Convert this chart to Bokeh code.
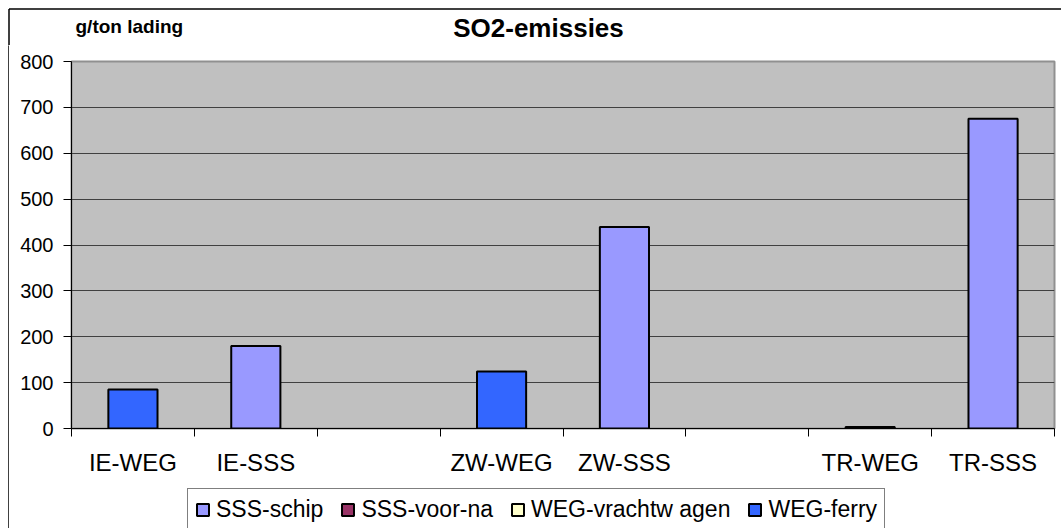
from bokeh.plotting import figure
from bokeh.layouts import column, row
from bokeh.models import (Range1d, LinearAxis, FixedTicker, ColumnDataSource, Legend,
                          LegendItem, Label)
from bokeh.embed import file_html
from bokeh.resources import INLINE

# ---- data ----
categories = ["IE-WEG", "IE-SSS", "", "ZW-WEG", "ZW-SSS", "", "TR-WEG", "TR-SSS"]
series_names = ["SSS-schip", "SSS-voor-na", "WEG-vrachtw agen", "WEG-ferry"]
sss_schip = [0, 180, 0, 0, 439, 0, 0, 675]
sss_voor_na = [0, 0, 0, 0, 0, 0, 0, 0]
weg_vrachtwagen = [0, 0, 0, 0, 0, 0, 0, 0]
weg_ferry = [85, 0, 0, 124, 0, 0, 3, 0]
series_values = [sss_schip, sss_voor_na, weg_vrachtwagen, weg_ferry]
colors = ["#9999FF", "#993366", "#FFFFCC", "#3366FF"]
y_ticks = [0, 100, 200, 300, 400, 500, 600, 700, 800]
chart_title = "SO2-emissies"
unit_label = "g/ton lading"

FONT = "Liberation Sans"


def blank_fig(w, h):
    f = figure(width=w, height=h, x_range=Range1d(0, w), y_range=Range1d(h, 0),
               output_backend="svg", toolbar_location=None,
               x_axis_location=None, y_axis_location=None, min_border=0)
    f.title.visible = False
    f.outline_line_color = None
    f.background_fill_color = "white"
    f.border_fill_color = "white"
    f.grid.visible = False
    return f


# ---- header strip (titles + outer frame line) ----
top = blank_fig(1061, 45)
top.segment(x0=[8.5, 8.5], y0=[8.5, 8.5], x1=[1061, 8.5], y1=[8.5, 50],
            line_color="black", line_width=1.5)
top.add_layout(Label(x=538, y=27, text=chart_title, text_align="center",
                     text_baseline="alphabetic", text_font=FONT, text_font_style="bold",
                     text_font_size="26px", text_color="black"))
top.add_layout(Label(x=75, y=26, text=unit_label, text_align="left",
                     text_baseline="alphabetic", text_font=FONT, text_font_style="bold",
                     text_font_size="19px", text_color="black"))

# ---- left strip (outer frame line) ----
left = blank_fig(9, 483)
left.segment(x0=[8.5], y0=[-5], x1=[8.5], y1=[490], line_color="black", line_width=1.5)

# ---- main chart ----
p = figure(width=1052, height=440, x_range=Range1d(0, len(categories)), y_range=Range1d(0, 800),
           output_backend="svg", toolbar_location=None, x_axis_location=None,
           min_border_left=62, min_border_right=7, min_border_top=16, min_border_bottom=57)
p.title.visible = False
p.background_fill_color = "#C0C0C0"
p.border_fill_color = "white"
p.outline_line_color = "#909090"
p.outline_line_width = 2

p.yaxis.ticker = FixedTicker(ticks=y_ticks)
p.yaxis.minor_tick_line_color = None
p.yaxis.major_tick_in = 0
p.yaxis.major_tick_out = 8
p.yaxis.major_tick_line_color = "black"
p.yaxis.axis_line_color = "black"
p.yaxis.major_label_standoff = 10
p.yaxis.major_label_text_font = FONT
p.yaxis.major_label_text_font_size = "20px"
p.yaxis.major_label_text_color = "black"
p.ygrid.ticker = FixedTicker(ticks=y_ticks)
p.ygrid.grid_line_color = "#404040"
p.xgrid.visible = False

bounds = list(range(len(categories) + 1))
ax1 = LinearAxis(ticker=FixedTicker(ticks=bounds),
                 major_label_overrides={b: "" for b in bounds},
                 major_label_text_font_size="1px", major_label_standoff=0,
                 major_tick_in=0, major_tick_out=8, major_tick_line_color="black",
                 axis_line_color="black", minor_tick_line_color=None)
p.add_layout(ax1, "below")
centers = [i + 0.5 for i in range(len(categories))]
ax2 = LinearAxis(ticker=FixedTicker(ticks=centers),
                 major_label_overrides={c: lab for c, lab in zip(centers, categories)},
                 major_label_text_font=FONT, major_label_text_font_size="24px",
                 major_label_text_color="black", major_label_standoff=6,
                 major_tick_line_color=None, minor_tick_line_color=None,
                 axis_line_color=None)
p.add_layout(ax2, "below")

bottoms = [0.0] * len(categories)
for name, vals, col in zip(series_names, series_values, colors):
    xs, bs, ts = [], [], []
    for i, v in enumerate(vals):
        if v > 0:
            xs.append(centers[i])
            bs.append(bottoms[i])
            ts.append(bottoms[i] + v)
        bottoms[i] += v
    src = ColumnDataSource(dict(x=xs, bottom=bs, top=ts))
    p.vbar(x="x", bottom="bottom", top="top", width=0.4, source=src,
           fill_color=col, line_color="black", line_width=2)

# ---- legend strip ----
legfig = blank_fig(1052, 43)
items = []
for name, vals, col in zip(series_names, series_values, colors):
    r = legfig.vbar(x=centers, top=vals, width=0.4, fill_color=col,
                    line_color="black", line_width=2)
    r.visible = False  # only its legend swatch is shown
    items.append(LegendItem(label=name, renderers=[r]))
legend = Legend(items=items, orientation="horizontal", location=(116, -3), margin=0, padding=7,
                glyph_width=15, glyph_height=15, label_standoff=6, spacing=17,
                label_text_font=FONT, label_text_font_size="23px", label_text_color="black",
                border_line_color="black", border_line_width=1.5,
                background_fill_color="white", background_fill_alpha=1,
                inactive_fill_alpha=0)
legfig.add_layout(legend, "center")

layout = column(top, row(left, column(p, legfig)))
open("out.html", "w").write(file_html(layout, INLINE))
